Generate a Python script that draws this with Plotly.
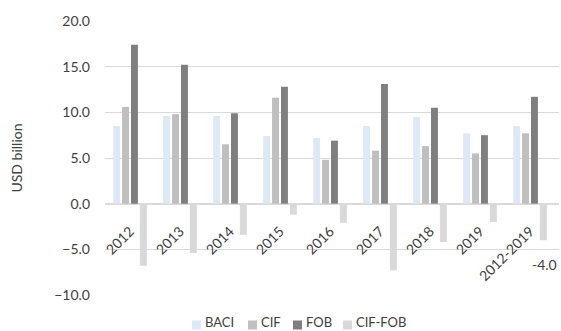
import plotly.graph_objects as go

# Annual trade values, USD billion
categories = ["2012", "2013", "2014", "2015", "2016", "2017", "2018", "2019", "2012-2019"]
baci = [8.5, 9.6, 9.6, 7.4, 7.2, 8.5, 9.5, 7.7, 8.5]
cif = [10.6, 9.8, 6.5, 11.6, 4.8, 5.8, 6.3, 5.5, 7.7]
fob = [17.4, 15.2, 9.9, 12.8, 6.9, 13.1, 10.5, 7.5, 11.7]
cif_fob = [-6.8, -5.4, -3.4, -1.2, -2.1, -7.3, -4.2, -2.0, -4.0]

series_names = ["BACI", "CIF", "FOB", "CIF-FOB"]
series_values = [baci, cif, fob, cif_fob]
series_colors = ["#dee9f6", "#bfbfbf", "#7f7f7f", "#d9d9d9"]

FONT = "Lato"
TEXT = "#404040"
W, H = 561, 331
ML, MR, MT, MB = 105, 2, 21, 36
Y_MIN, Y_MAX = -10, 20

fig = go.Figure()
for name, vals, col in zip(series_names, series_values, series_colors):
    fig.add_trace(go.Bar(x=categories, y=vals, name=name, marker_color=col,
                         marker_line_width=0, showlegend=False))

# value label under the period-total CIF-FOB bar
last_cat, last_val = categories[-1], cif_fob[-1]
fig.add_annotation(x=last_cat, y=last_val, text=f"{last_val:.1f}", showarrow=False,
                   xshift=14.5, yshift=-24, font=dict(family=FONT, size=14, color=TEXT))

# legend row along the bottom
plot_w = W - ML - MR
plot_h = H - MT - MB
leg_x = [192, 248, 293, 343]
leg_y = 325
sq = 9
for name, col, px in zip(series_names, series_colors, leg_x):
    x0 = (px - ML) / plot_w
    x1 = (px + sq - ML) / plot_w
    y0 = (H - MB - (leg_y + sq / 2)) / plot_h
    y1 = (H - MB - (leg_y - sq / 2)) / plot_h
    fig.add_shape(type="rect", xref="paper", yref="paper", x0=x0, x1=x1, y0=y0, y1=y1,
                  fillcolor=col, line_width=0)
    fig.add_annotation(xref="paper", yref="paper", x=(px + sq + 3 - ML) / plot_w,
                       y=(H - MB - H) / plot_h, text=name, showarrow=False,
                       xanchor="left", yanchor="bottom", borderpad=0,
                       font=dict(family=FONT, size=13, color=TEXT))

fig.update_layout(
    width=W, height=H,
    margin=dict(l=ML, r=MR, t=MT, b=MB, pad=0),
    paper_bgcolor="white", plot_bgcolor="white",
    barmode="group", bargap=0.287, bargroupgap=0.22,
    font=dict(family=FONT, size=14, color=TEXT),
    xaxis=dict(type="category", anchor="free",
               position=(0 - Y_MIN) / (Y_MAX - Y_MIN),
               tickangle=-45, showgrid=False, showline=True,
               linecolor="#d9d9d9", linewidth=1, ticks="",
               ticklabelstandoff=13,
               tickfont=dict(family=FONT, size=14, color=TEXT)),
    yaxis=dict(range=[Y_MIN, Y_MAX], dtick=5, tickformat=".1f",
               showgrid=True, gridcolor="#d9d9d9", gridwidth=1,
               zeroline=False, showline=False, ticks="",
               ticklabelstandoff=14,
               tickfont=dict(family=FONT, size=14, color=TEXT),
               title=dict(text="USD billion", standoff=28,
                          font=dict(family=FONT, size=14, color=TEXT))),
)

fig.write_html("out.html")
